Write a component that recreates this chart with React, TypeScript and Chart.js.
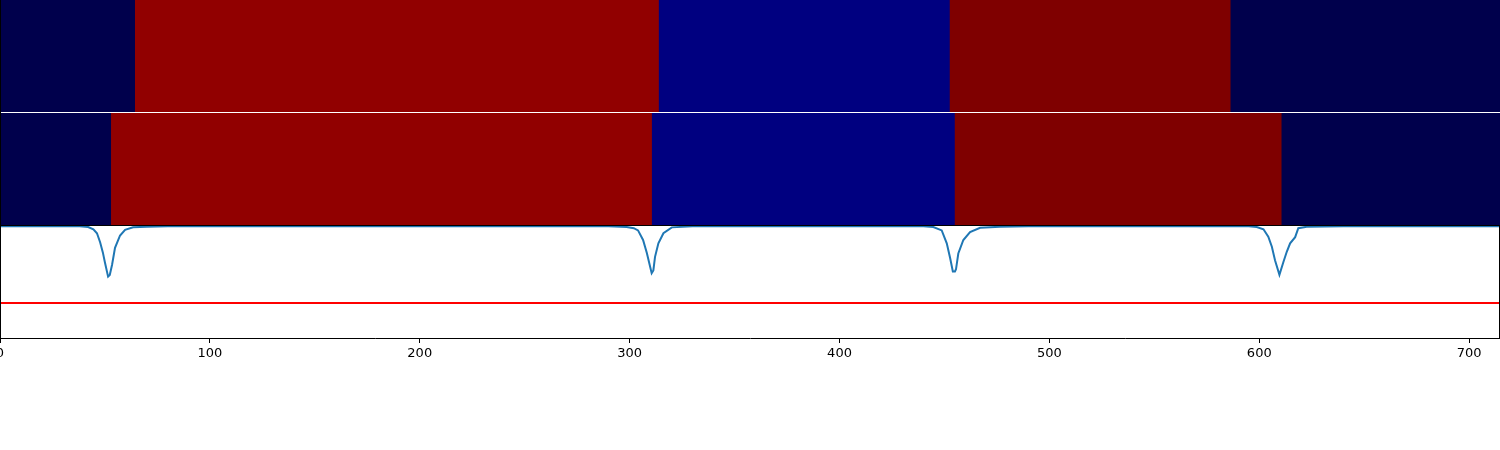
import React, { useEffect, useRef } from "react";
import { Chart, registerables } from "chart.js";

Chart.register(...registerables);

const X_MAX = 714.7;

const xTickValues = [0, 100, 200, 300, 400, 500, 600, 700];

const topRowStarts = [0, 64.3, 313.8, 452.4, 586.2];
const topRowColors = ["#00004c", "#910000", "#000080", "#7f0000", "#00004c"];

const midRowStarts = [0, 52.9, 310.5, 454.8, 610.5];
const midRowColors = ["#00004c", "#910000", "#000080", "#7f0000", "#00004c"];

const profileX = [
  0, 38, 42, 44.5, 46.2, 47.7, 49, 50, 51.5, 52.3, 53.4, 54.8, 57.2, 59.6, 63.4, 70, 80,
  290, 298.6, 302, 304, 306.4, 308.2, 310.5, 311.3, 312.1, 313.7, 316.1, 320.1, 330,
  440, 444.7, 448.7, 451.1, 452.7, 454, 455, 455.5, 456.6, 459, 462.2, 467, 476.5, 490,
  595, 598.8, 602, 604.3, 606, 607.5, 609.6, 611.5, 613.1, 614.7, 617.1, 618.6, 622.6, 640, 714.7,
];
const profileY = [
  0.992, 0.992, 0.985, 0.965, 0.93, 0.85, 0.76, 0.67, 0.545, 0.56, 0.65, 0.8, 0.91, 0.96, 0.982, 0.988, 0.992,
  0.992, 0.985, 0.975, 0.955, 0.87, 0.755, 0.575, 0.6, 0.72, 0.84, 0.93, 0.982, 0.992,
  0.992, 0.985, 0.955, 0.84, 0.71, 0.59, 0.59, 0.61, 0.75, 0.87, 0.94, 0.978, 0.988, 0.992,
  0.992, 0.985, 0.965, 0.9, 0.81, 0.69, 0.56, 0.675, 0.765, 0.84, 0.895, 0.975, 0.988, 0.992, 0.992,
];

const threshold = 0.31;

// Row value bands on the shared y scale
const MID_ROW = [1, 2];
const TOP_ROW = [2, 3];

function rowDatasets(starts: number[], colors: string[], band: number[], key: string) {
  return starts.map((s, i) => ({
    type: "line" as const,
    label: key + i,
    data: [
      { x: s, y: band[1] },
      { x: X_MAX, y: band[1] },
    ],
    fill: { value: band[0] },
    backgroundColor: colors[i],
    borderColor: "rgba(0,0,0,0)",
    borderWidth: 0,
    pointRadius: 0,
    tension: 0,
    order: 100 - i,
  }));
}

const spinesPlugin = {
  id: "spines",
  afterDatasetsDraw(chart: any) {
    const { ctx, chartArea } = chart;
    const y = chart.scales.y;
    const { left, right, top, bottom } = chartArea;
    ctx.save();
    const yGap = Math.floor(y.getPixelForValue(2));
    ctx.fillStyle = "#ffffff";
    ctx.fillRect(left, yGap, right - left, 1);
    const yTopSpine = Math.floor(y.getPixelForValue(1));
    ctx.fillStyle = "#000000";
    ctx.fillRect(left, yTopSpine, right - left, 1);
    ctx.fillRect(left, top, 1, bottom - top);
    ctx.fillRect(right - 1, yTopSpine, 1, bottom - yTopSpine);
    ctx.restore();
  },
};

export default function App() {
  const ref = useRef<HTMLCanvasElement | null>(null);

  useEffect(() => {
    if (!ref.current) return;
    const chart = new Chart(ref.current, {
      type: "line",
      data: {
        datasets: [
          {
            label: "profile",
            data: profileX.map((x, i) => ({ x, y: profileY[i] })),
            borderColor: "#1f77b4",
            borderWidth: 2,
            pointRadius: 0,
            fill: false,
            tension: 0,
            order: 0,
          },
          {
            label: "threshold",
            data: [
              { x: 0, y: threshold },
              { x: X_MAX, y: threshold },
            ],
            borderColor: "#ff0000",
            borderWidth: 2,
            pointRadius: 0,
            fill: false,
            order: 1,
          },
          ...rowDatasets(topRowStarts, topRowColors, TOP_ROW, "top"),
          ...rowDatasets(midRowStarts, midRowColors, MID_ROW, "mid"),
        ] as any,
      },
      options: {
        responsive: false,
        animation: false,
        parsing: false as any,
        normalized: true,
        layout: { padding: 0, autoPadding: false } as any,
        plugins: {
          legend: { display: false },
          tooltip: { enabled: false },
        },
        scales: {
          x: {
            type: "linear",
            min: 0,
            max: X_MAX,
            afterBuildTicks: (s: any) => {
              s.ticks = xTickValues.map((v) => ({ value: v }));
            },
            afterFit: (s: any) => {
              s.height = 112;
              s.paddingLeft = 0;
              s.paddingRight = 0;
            },
            grid: {
              drawOnChartArea: false,
              drawTicks: true,
              tickLength: 5,
              tickColor: "#000000",
              color: "#000000",
            },
            border: { display: true, color: "#000000", width: 1 },
            ticks: {
              color: "#000000",
              padding: 3,
              maxRotation: 0,
              autoSkip: false,
              font: { family: "'DejaVu Sans'", size: 13 },
              callback: (v: any) => String(v),
            },
          },
          y: {
            type: "linear",
            min: 0,
            max: 3,
            display: false,
          },
        },
      },
      plugins: [spinesPlugin],
    });
    return () => chart.destroy();
  }, []);

  return (
    <div style={{ position: "fixed", left: 0, top: 0, width: 1500, height: 450, background: "#fff" }}>
      <canvas ref={ref} width={1500} height={450} style={{ display: "block" }} />
    </div>
  );
}
